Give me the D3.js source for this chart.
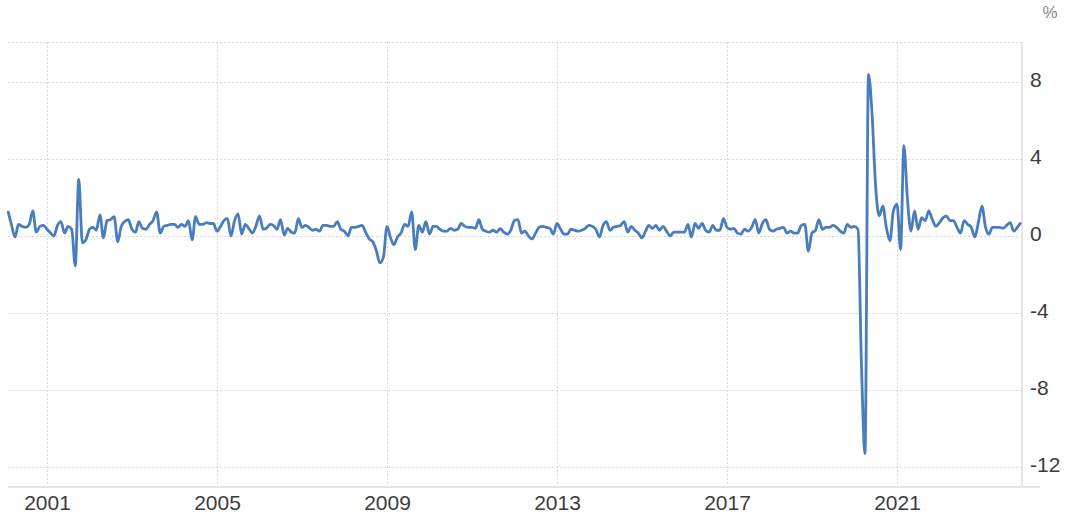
<!DOCTYPE html>
<meta charset="utf-8">
<style>
  body { margin: 0; background: #fff; }
  text { font-family: "Liberation Sans", Arial, sans-serif; }
</style>
<div id="chart"></div>
<script src="https://d3js.org/d3.v7.min.js"></script>
<script>

// monthly change, %, first value is Feb 2000
var firstMonth = new Date(2000, 1, 1)
var spending = [
  1.3, 0.6, -0.05, 0.6, 0.5, 0.45, 0.6, 1.3, 0.2, 0.5, 0.55,
  0.35, 0.15, 0.0, 0.55, 0.75, 0.15, 0.5, 0.35, -1.55, 2.95, -0.35, -0.2,
  0.35, 0.45, 0.3, 1.1, -0.1, 0.8, 0.85, 1.0, -0.3, 0.5, 0.75, 0.85,
  0.35, 0.2, 0.75, 0.4, 0.35, 0.6, 0.8, 1.25, 0.15, 0.5, 0.55, 0.6,
  0.6, 0.45, 0.6, 0.5, 0.8, -0.2, 1.0, 0.6, 0.6, 0.7, 0.65, 0.65,
  0.25, 0.5, 0.8, 0.9, 0.0, 0.8, 1.15, 0.1, 0.6, 0.4, 0.15, 0.5,
  1.05, 0.35, 0.4, 0.6, 0.55, 0.35, 0.85, 0.05, 0.4, 0.2, 0.15, 0.9,
  0.45, 0.55, 0.45, 0.3, 0.35, 0.25, 0.55, 0.55, 0.5, 0.5, 0.75, 0.35,
  0.25, 0.0, 0.45, 0.45, 0.5, 0.55, 0.2, -0.15, -0.3, -0.75, -1.4, -1.1,
  0.5, -0.1, -0.45, -0.05, 0.15, 0.6, 0.5, 1.25, -0.7, 0.55, 0.2, 0.75,
  0.1, 0.5, 0.5, 0.35, 0.25, 0.25, 0.4, 0.3, 0.35, 0.65, 0.5, 0.45,
  0.45, 0.4, 0.85, 0.35, 0.25, 0.2, 0.3, 0.2, 0.38, 0.2, 0.1, 0.3,
  0.8, 0.85, 0.15, 0.25, 0.0, -0.15, 0.15, 0.45, 0.5, 0.45, 0.4, 0.1,
  0.65, 0.35, 0.1, 0.1, 0.35, 0.3, 0.25, 0.3, 0.4, 0.55, 0.5, 0.35,
  -0.05, 0.55, 0.75, 0.3, 0.45, 0.5, 0.55, 0.75, 0.2, 0.5, 0.3, 0.15,
  -0.1, 0.25, 0.55, 0.4, 0.55, 0.3, 0.5, 0.25, 0.0, 0.2, 0.2, 0.2,
  0.2, 0.6, -0.05, 0.65, 0.4, 0.65, 0.3, 0.2, 0.55, 0.3, 0.3, 0.9,
  0.45, 0.35, 0.4, 0.15, 0.1, 0.35, 0.25, 0.45, 0.85, 0.15, 0.65, 0.85,
  0.35, 0.25, 0.35, 0.4, 0.45, 0.15, 0.25, 0.15, 0.15, 0.55, 0.6, -0.8,
  0.15, 0.3, 0.85, 0.35, 0.45, 0.45, 0.55, 0.45, 0.25, 0.15, 0.6, 0.45,
  0.5, 0.35, -6.6, -11.3, 8.4, 6.3, 2.6, 1.05, 1.55, 0.45, -0.25, 1.3,
  1.65, -0.7, 4.7, 1.9, 0.25, 1.3, 0.35, 0.95, 0.8, 1.3, 0.85, 0.5,
  0.7, 0.95, 1.05, 0.8, 0.8, 0.45, 0.15, 0.8, 0.6, 0.45, -0.05, 0.7,
  1.55, 0.45, 0.1, 0.45, 0.45, 0.45, 0.4, 0.55, 0.7, 0.25, 0.45, 0.7
]
var yTicks = [8, 4, 0, -4, -8, -12]
var xTicks = [2001, 2005, 2009, 2013, 2017, 2021]

var width = 1065, height = 520
var plotLeft = 8, plotRight = 1022, plotTop = 42, plotBottom = 487

var svg = d3.select("#chart")
  .append("svg")
    .attr("width", width)
    .attr("height", height)

var x = d3.scaleTime()
  .domain([new Date(2001, 0, 1), new Date(2021, 0, 1)])
  .range([47, 897])

var y = d3.scaleLinear()
  .domain([-12, 8])
  .range([467, 82])

var data = spending.map(function(v, i) {
  return { date: d3.timeMonth.offset(firstMonth, i), value: v }
})

// dotted grid
var grid = svg.append("g")
  .attr("stroke", "#d9d9d9")
  .attr("stroke-width", 1)
  .attr("stroke-dasharray", "2,2")

grid.selectAll(".hgrid")
  .data(yTicks)
  .enter()
  .append("line")
    .attr("x1", plotLeft)
    .attr("x2", plotRight)
    .attr("y1", function(d) { return y(d) + 0.5 })
    .attr("y2", function(d) { return y(d) + 0.5 })

grid.append("line")
  .attr("x1", plotLeft).attr("x2", plotRight)
  .attr("y1", plotTop + 0.5).attr("y2", plotTop + 0.5)

grid.selectAll(".vgrid")
  .data(xTicks)
  .enter()
  .append("line")
    .attr("x1", function(d) { return x(new Date(d, 0, 1)) + 0.5 })
    .attr("x2", function(d) { return x(new Date(d, 0, 1)) + 0.5 })
    .attr("y1", plotTop)
    .attr("y2", plotBottom)

// frame lines
svg.append("line")
  .attr("x1", plotRight).attr("x2", plotRight)
  .attr("y1", plotTop).attr("y2", plotBottom)
  .attr("stroke", "#e6e6e6")
  .attr("stroke-width", 2)

svg.append("line")
  .attr("x1", plotLeft).attr("x2", 1040)
  .attr("y1", plotBottom).attr("y2", plotBottom)
  .attr("stroke", "#e6e6e6")
  .attr("stroke-width", 2)

// the series
var line = d3.line()
  .x(function(d) { return x(d.date) })
  .y(function(d) { return y(d.value) })
  .curve(d3.curveMonotoneX)

svg.append("path")
  .datum(data)
  .attr("fill", "none")
  .attr("stroke", "#4a7dbe")
  .attr("stroke-width", 2.8)
  .attr("stroke-linejoin", "round")
  .attr("d", line)

// axes
var yAxis = svg.append("g")
  .attr("transform", "translate(" + plotRight + ",-2)")
  .call(d3.axisRight(y)
    .tickValues(yTicks)
    .tickFormat(function(d) { return String(d) })
    .tickSize(0)
    .tickPadding(8))
yAxis.select(".domain").remove()
yAxis.selectAll("text")
  .style("font-size", "21px")
  .style("font-family", "'Liberation Sans', Arial, sans-serif")
  .attr("fill", "#3c3c3c")

var xAxis = svg.append("g")
  .attr("transform", "translate(0," + plotBottom + ")")
  .call(d3.axisBottom(x)
    .tickValues(xTicks.map(function(d) { return new Date(d, 0, 1) }))
    .tickFormat(d3.timeFormat("%Y"))
    .tickSize(0)
    .tickPadding(8))
xAxis.select(".domain").remove()
xAxis.selectAll("text")
  .style("font-size", "21px")
  .style("font-family", "'Liberation Sans', Arial, sans-serif")
  .attr("fill", "#3c3c3c")

svg.append("text")
  .attr("x", 1050)
  .attr("y", 18)
  .attr("text-anchor", "middle")
  .style("font-size", "17px")
  .attr("fill", "#8a8a8a")
  .text("%")

</script>
